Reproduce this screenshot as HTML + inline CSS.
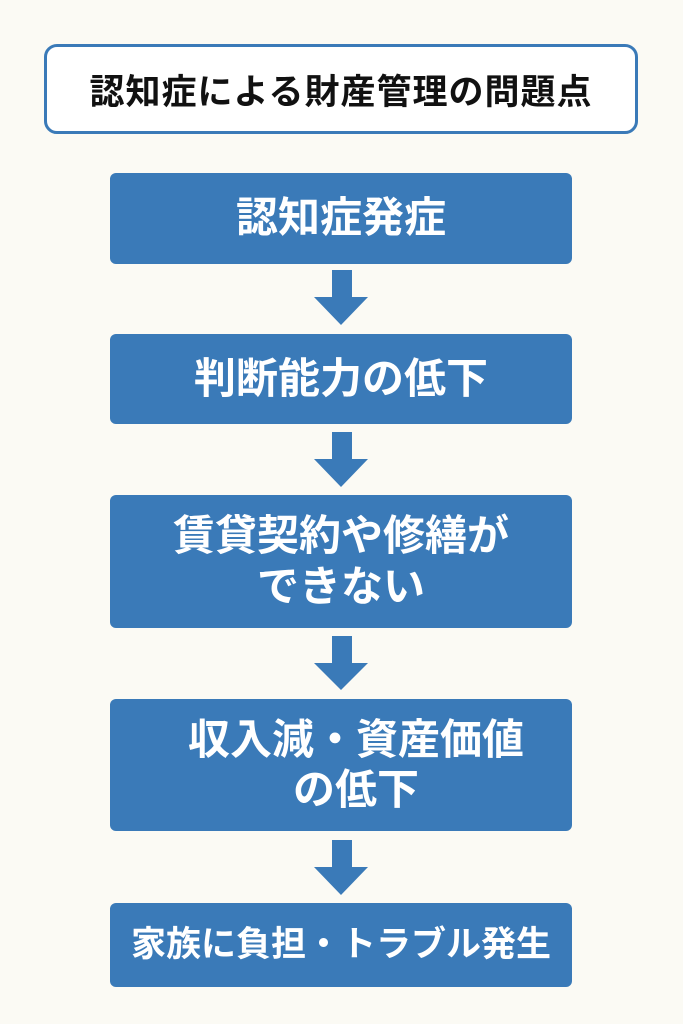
<!DOCTYPE html>
<html><head><meta charset="utf-8"><style>
body{margin:0;width:683px;height:1024px;background:#fbfaf4;position:relative;overflow:hidden;font-family:"Liberation Sans","Noto Sans CJK JP",sans-serif;font-weight:bold}
.t{position:absolute;left:44px;top:44px;width:588px;height:84px;border:3px solid #3a7ab8;border-radius:13px;background:#fff;display:flex;align-items:center;justify-content:center;font-size:35px;color:#111;letter-spacing:1px}
.b{position:absolute;left:110px;width:462px;background:#3a7ab8;border-radius:6px;color:#fff;display:flex;align-items:center;justify-content:center;text-align:center;font-size:42px;line-height:1.2}
svg{position:absolute;left:0;top:0}
</style></head><body>
<div class="t">認知症による財産管理の問題点</div>
<div class="b" style="top:173px;height:91px">認知症発症</div>
<div class="b" style="top:334px;height:90px">判断能力の低下</div>
<div class="b" style="top:495px;height:133px">賃貸契約や修繕が<br>できない</div>
<div class="b" style="top:699px;height:132px;padding-left:30px;width:432px">収入減・資産価値<br>の低下</div>
<div class="b" style="top:903px;height:84px;font-size:35px">家族に負担・トラブル発生</div>
<svg width="683" height="1024">
<g fill="#3a7ab8">
<polygon points="332,270 352,270 352,297 368,297 341,325 314,297 332,297"/>
<polygon points="332,432 352,432 352,459 368,459 341,487 314,459 332,459"/>
<polygon points="332,636 352,636 352,663 368,663 341,690 314,663 332,663"/>
<polygon points="332,840 352,840 352,867 368,867 341,895 314,867 332,867"/>
</g></svg>
</body></html>
